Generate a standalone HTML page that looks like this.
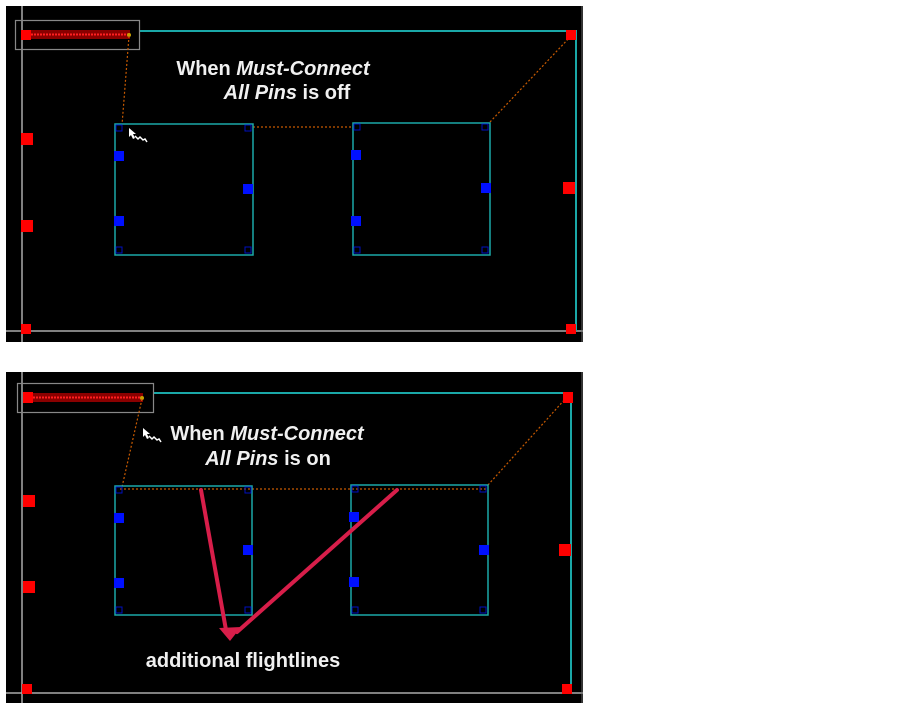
<!DOCTYPE html>
<html><head><style>
html,body{margin:0;padding:0;background:#fff;width:915px;height:708px;overflow:hidden}
svg{display:block}
text{font-family:"Liberation Sans",Arial,sans-serif;font-weight:bold;fill:#f0f0f0}
</style></head><body>
<svg width="915" height="708" viewBox="0 0 915 708" xmlns="http://www.w3.org/2000/svg">
<defs>
<g id="cur"><path d="M0 0 L0 9 L2 7 L4 11 L6 10 L4 6 L7 6 Z" fill="#fff"/><path d="M6 8 L9 11 L11 9 L14 12 L16 11 L18 14" stroke="#fff" stroke-width="1.5" fill="none"/></g>
</defs>
<!-- TOP PANEL -->
<rect x="6" y="6" width="577" height="336" fill="#000"/>
<line x1="22" y1="6" x2="22" y2="342" stroke="#aaa" stroke-width="1.5"/>
<line x1="6" y1="331" x2="583" y2="331" stroke="#aaa" stroke-width="1.5"/>
<line x1="582" y1="6" x2="582" y2="342" stroke="#666" stroke-width="1"/>
<polyline points="140,31 576,31 576,331" fill="none" stroke="#1aa8a8" stroke-width="2"/>
<rect x="15.5" y="20.5" width="124" height="29" fill="none" stroke="#888" stroke-width="1.2"/>
<rect x="21" y="30" width="109" height="9" fill="#8a0000"/>
<line x1="28" y1="34.5" x2="130" y2="34.5" stroke="#ff2020" stroke-width="2" stroke-dasharray="2 1"/>
<rect x="21" y="30" width="10" height="10" fill="#f00"/>
<circle cx="129" cy="35" r="2" fill="#c8a000"/>
<g stroke="#c85a00" stroke-width="1.2" stroke-dasharray="2 2" fill="none">
<line x1="129" y1="36" x2="122" y2="125"/><line x1="253" y1="127" x2="352" y2="127"/><line x1="490" y1="122" x2="571" y2="36"/>
</g>
<rect x="115" y="124" width="138" height="131" fill="none" stroke="#1aa8a8" stroke-width="1.5"/>
<rect x="353" y="123" width="137" height="132" fill="none" stroke="#1aa8a8" stroke-width="1.5"/>
<g fill="#0010ff">
<rect x="114" y="151" width="10" height="10"/><rect x="243" y="184" width="10" height="10"/><rect x="114" y="216" width="10" height="10"/>
<rect x="351" y="150" width="10" height="10"/><rect x="481" y="183" width="10" height="10"/><rect x="351" y="216" width="10" height="10"/>
</g>
<g fill="none" stroke="#0010c0" stroke-width="1">
<rect x="116" y="125" width="6" height="6"/><rect x="245" y="125" width="6" height="6"/><rect x="116" y="247" width="6" height="6"/><rect x="245" y="247" width="6" height="6"/>
<rect x="354" y="124" width="6" height="6"/><rect x="482" y="124" width="6" height="6"/><rect x="354" y="247" width="6" height="6"/><rect x="482" y="247" width="6" height="6"/>
</g>
<g fill="#f00">
<rect x="566" y="30" width="10" height="10"/><rect x="21" y="133" width="12" height="12"/><rect x="21" y="220" width="12" height="12"/>
<rect x="21" y="324" width="10" height="10"/><rect x="566" y="324" width="10" height="10"/><rect x="563" y="182" width="12" height="12"/>
</g>
<use href="#cur" x="129" y="128"/>
<text x="273" y="75" font-size="20" text-anchor="middle">When <tspan font-style="italic">Must-Connect</tspan></text>
<text x="287" y="99" font-size="20" text-anchor="middle"><tspan font-style="italic">All Pins</tspan> is off</text>

<!-- BOTTOM PANEL -->
<rect x="6" y="372" width="577" height="331" fill="#000"/>
<line x1="22" y1="372" x2="22" y2="703" stroke="#aaa" stroke-width="1.5"/>
<line x1="6" y1="693" x2="583" y2="693" stroke="#aaa" stroke-width="1.5"/>
<line x1="582" y1="372" x2="582" y2="703" stroke="#666" stroke-width="1"/>
<polyline points="153,393 571,393 571,693" fill="none" stroke="#1aa8a8" stroke-width="2"/>
<rect x="17.5" y="383.5" width="136" height="29" fill="none" stroke="#888" stroke-width="1.2"/>
<rect x="23" y="393" width="120" height="9" fill="#8a0000"/>
<line x1="30" y1="397.5" x2="142" y2="397.5" stroke="#ff2020" stroke-width="2" stroke-dasharray="2 1"/>
<rect x="23" y="392" width="10" height="11" fill="#f00"/>
<circle cx="142" cy="398" r="2" fill="#c8a000"/>
<g stroke="#c85a00" stroke-width="1.2" stroke-dasharray="2 2" fill="none">
<line x1="142" y1="399" x2="122" y2="487"/><line x1="120" y1="489" x2="488" y2="489"/><line x1="488" y1="485" x2="566" y2="398"/>
</g>
<rect x="115" y="486" width="137" height="129" fill="none" stroke="#1aa8a8" stroke-width="1.5"/>
<rect x="351" y="485" width="137" height="130" fill="none" stroke="#1aa8a8" stroke-width="1.5"/>
<g fill="#0010ff">
<rect x="114" y="513" width="10" height="10"/><rect x="243" y="545" width="10" height="10"/><rect x="114" y="578" width="10" height="10"/>
<rect x="349" y="512" width="10" height="10"/><rect x="479" y="545" width="10" height="10"/><rect x="349" y="577" width="10" height="10"/>
</g>
<g fill="none" stroke="#0010c0" stroke-width="1">
<rect x="116" y="487" width="6" height="6"/><rect x="245" y="487" width="6" height="6"/><rect x="116" y="607" width="6" height="6"/><rect x="245" y="607" width="6" height="6"/>
<rect x="352" y="486" width="6" height="6"/><rect x="480" y="486" width="6" height="6"/><rect x="352" y="607" width="6" height="6"/><rect x="480" y="607" width="6" height="6"/>
</g>
<g fill="#f00">
<rect x="563" y="392" width="10" height="11"/><rect x="23" y="495" width="12" height="12"/><rect x="23" y="581" width="12" height="12"/>
<rect x="22" y="684" width="10" height="10"/><rect x="562" y="684" width="10" height="10"/><rect x="559" y="544" width="12" height="12"/>
</g>
<g stroke="#d81e4a" stroke-width="4" stroke-linecap="round" fill="none">
<line x1="201" y1="490" x2="226" y2="630"/><line x1="397" y1="490" x2="237" y2="632"/>
</g>
<polygon points="219,628 241,627 230,641" fill="#d81e4a"/>
<use href="#cur" x="143" y="428"/>
<text x="267" y="440" font-size="20" text-anchor="middle">When <tspan font-style="italic">Must-Connect</tspan></text>
<text x="268" y="465" font-size="20" text-anchor="middle"><tspan font-style="italic">All Pins</tspan> is on</text>
<text x="243" y="667" font-size="20" text-anchor="middle">additional flightlines</text>
</svg>
</body></html>
